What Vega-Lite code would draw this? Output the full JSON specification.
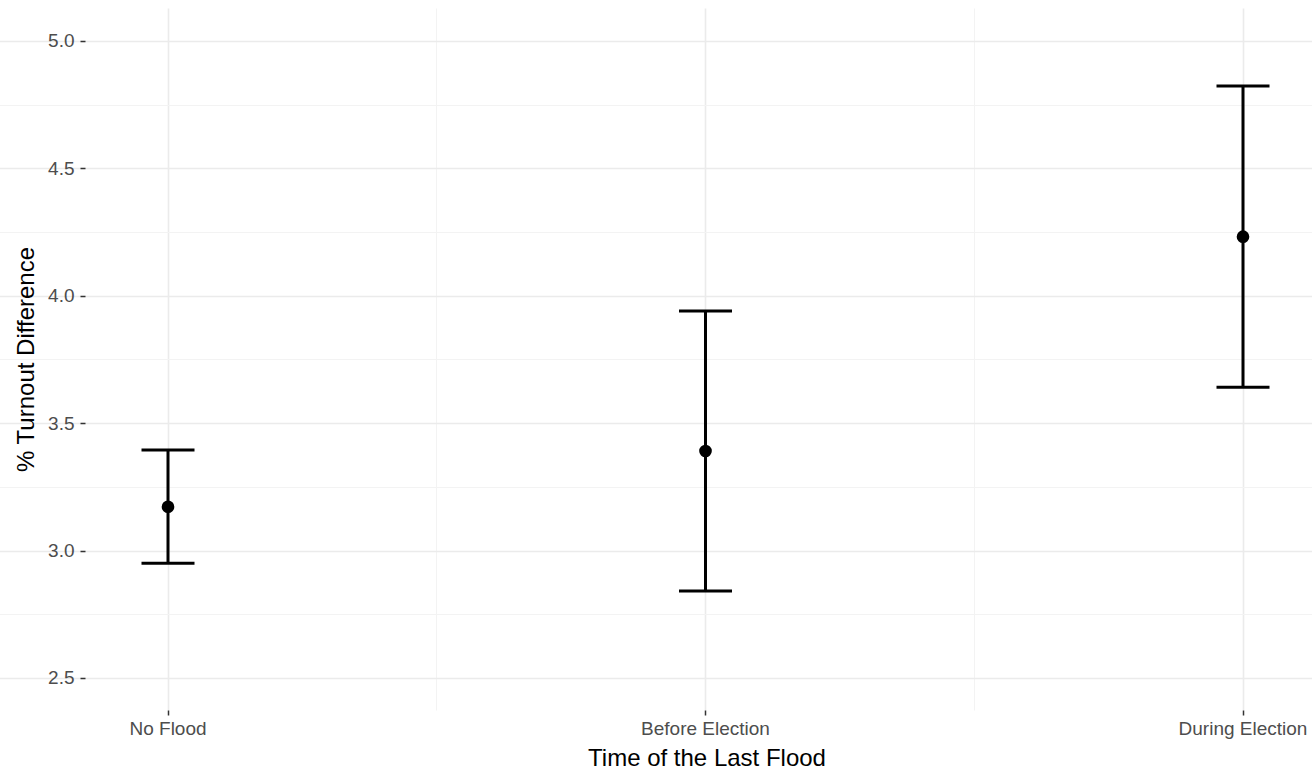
{
  "$schema": "https://vega.github.io/schema/vega-lite/v6.json",
  "width": 1227,
  "height": 702,
  "autosize": {"type": "none"},
  "padding": {"left": 85, "top": 8, "right": 0, "bottom": 63},
  "background": "white",
  "config": {
    "font": "Liberation Sans",
    "view": {"stroke": null},
    "axis": {"domain": false, "labelFont": "Liberation Sans", "titleFont": "Liberation Sans", "titleFontWeight": "normal", "titleColor": "#000000", "titleFontSize": 24, "labelFontSize": 19, "labelColor": "#4D4D4D"}
  },
  "data": {
    "values": [
      {"time": "No Flood", "mean": 3.172, "lower": 2.95, "upper": 3.395},
      {"time": "Before Election", "mean": 3.391, "lower": 2.841, "upper": 3.94},
      {"time": "During Election", "mean": 4.232, "lower": 3.641, "upper": 4.823}
    ]
  },
  "resolve": {"axis": {"x": "independent"}},
  "layer": [
    {
      "mark": {"type": "rule", "color": "black", "strokeWidth": 3},
      "encoding": {
        "x": {
          "field": "time", "type": "nominal", "sort": null,
          "scale": {"type": "band", "range": [-185.75, 1426.75], "paddingInner": 0, "paddingOuter": 0},
          "axis": {
            "orient": "bottom", "bandPosition": 0.5, "labelAngle": 0,
            "grid": true, "gridColor": "#EBEBEB", "gridWidth": 1.6,
            "ticks": true, "tickColor": "#333333", "tickSize": 5, "tickWidth": 1.5,
            "labelPadding": 4,
            "title": "Time of the Last Flood", "titleX": 621.5, "titleY": 55, "titleBaseline": "alphabetic", "titleAlign": "center"
          }
        },
        "y": {
          "field": "lower", "type": "quantitative",
          "scale": {"domain": [2.3744, 5.1295], "nice": false, "zero": false},
          "axis": {
            "values": [2.5, 2.75, 3, 3.25, 3.5, 3.75, 4, 4.25, 4.5, 4.75, 5],
            "labelExpr": "datum.value % 0.5 === 0 ? format(datum.value, '.1f') : ''",
            "grid": true,
            "gridColor": {"condition": {"test": "datum.value % 0.5 !== 0", "value": "#F3F3F3"}, "value": "#EBEBEB"},
            "gridWidth": {"condition": {"test": "datum.value % 0.5 !== 0", "value": 1}, "value": 1.6},
            "ticks": true, "tickColor": "#333333", "tickSize": 5, "tickWidth": 1.5,
            "tickOpacity": {"condition": {"test": "datum.value % 0.5 !== 0", "value": 0}, "value": 1},
            "labelPadding": 6,
            "title": "% Turnout Difference", "titleX": -52, "titleY": 351, "titleBaseline": "alphabetic", "titleAlign": "center", "titleAngle": -90
          }
        },
        "y2": {"field": "upper"}
      }
    },
    {
      "mark": {"type": "point", "filled": true, "color": "black", "opacity": 1, "size": 160},
      "encoding": {
        "x": {
          "field": "time", "type": "nominal", "sort": null,
          "axis": {
            "orient": "bottom", "bandPosition": 0, "grid": true, "gridColor": "#F3F3F3", "gridWidth": 1,
            "labels": false, "ticks": false, "title": null
          }
        },
        "y": {"field": "mean", "type": "quantitative", "title": "% Turnout Difference"}
      }
    },
    {
      "mark": {"type": "tick", "color": "black", "thickness": 3, "size": 53, "orient": "horizontal", "opacity": 1},
      "encoding": {
        "x": {"field": "time", "type": "nominal", "sort": null, "axis": null},
        "y": {"field": "lower", "type": "quantitative", "title": "% Turnout Difference"}
      }
    },
    {
      "mark": {"type": "tick", "color": "black", "thickness": 3, "size": 53, "orient": "horizontal", "opacity": 1},
      "encoding": {
        "x": {"field": "time", "type": "nominal", "sort": null, "axis": null},
        "y": {"field": "upper", "type": "quantitative", "title": "% Turnout Difference"}
      }
    }
  ]
}
